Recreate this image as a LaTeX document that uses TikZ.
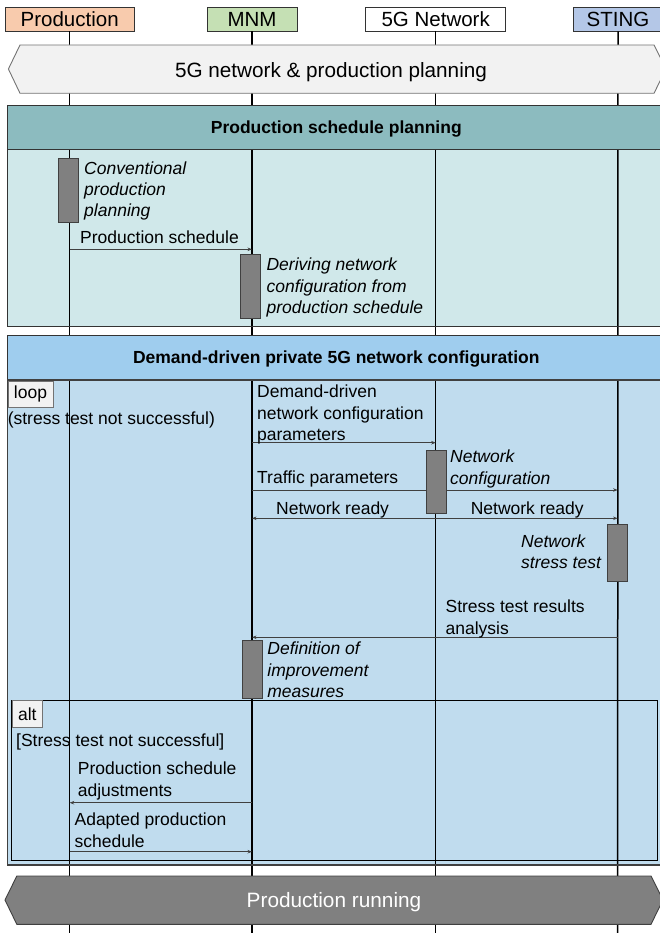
\documentclass[tikz,border=0pt]{standalone}
\usepackage{fontspec}
\setmainfont{Liberation Sans}
\usetikzlibrary{arrows.meta}
\definecolor{prodc}{HTML}{F8CBAD}
\definecolor{mnmc}{HTML}{C5E0B4}
\definecolor{stingc}{HTML}{B4C7E7}
\definecolor{hexc}{HTML}{F2F2F2}
\definecolor{tealhead}{HTML}{8CBBBF}
\definecolor{tealbody}{HTML}{D0E8EA}
\definecolor{bluehead}{HTML}{9FCDEE}
\definecolor{bluebody}{HTML}{C0DCEE}
\definecolor{actc}{HTML}{808080}
\tikzset{
  head/.style={draw=black!80, line width=0.8pt, minimum height=24pt, inner sep=0pt,
    font=\fontsize{20.5}{23}\selectfont},
  txt/.style={anchor=base west, inner sep=0pt, align=left,
    font=\fontsize{17.5}{21.3}\selectfont},
  itxt/.style={txt, font=\fontsize{17.5}{21.3}\selectfont\itshape},
  act/.style={draw=black!75, fill=actc, line width=0.8pt, inner sep=0pt,
    minimum width=20pt, anchor=north},
  life/.style={line width=1.5pt, black},
  msg/.style={draw=black!75, line width=0.9pt, -{Stealth[length=4.5pt,width=3.5pt]}},
  sect/.style={draw=black!80, line width=1pt},
  sechead/.style={sect, inner sep=0pt, minimum width=657.4pt, minimum height=44.3pt,
    text height=12.6pt, text depth=0pt,
    font=\fontsize{17.5}{21}\selectfont\bfseries},
  lbl/.style={draw=black!55, fill=hexc, line width=0.8pt, inner sep=0pt, anchor=north west,
    font=\fontsize{17.5}{21}\selectfont},
  hexa/.style={line width=0.9pt}
}
\begin{document}
\begin{tikzpicture}[x=1pt,y=-1pt]
\useasboundingbox (0,0) rectangle (659,933);

% lifeline heads
\node[head, fill=prodc, minimum width=129pt] (prod) at (69.7,19) {Production};
\node[head, fill=mnmc, minimum width=90pt] (mnm) at (252,19) {MNM};
\node[head, fill=white, minimum width=140pt] (net) at (435.7,19) {5G Network};
\node[head, fill=stingc, minimum width=90pt] (sting) at (618,19) {STING};

% section bodies
\fill[tealbody] (7.6,149.3) rectangle (666,326);
\fill[bluebody] (7.6,380) rectangle (666,865);

% lifelines
\coordinate (prodend) at (69.7,933);
\coordinate (mnmend) at (252,933);
\coordinate (netend) at (435.7,933);
\coordinate (stingend) at (617.6,933);
\draw[life] (prod.south) -- (prodend);
\draw[life] (mnm.south) -- (mnmend);
\draw[life] (net.south) -- (netend);
\draw[life] (sting.south) -- (stingend);

% top phase
\draw[hexa, draw=black!55, fill=hexc] (8.4,69) -- (20,45) -- (654,45) -- (666,69) -- (654,93.3) -- (20,93.3) -- cycle;
\node[font=\fontsize{20.7}{24}\selectfont] (plan) at (331,72.5) {5G network \& production planning};

% section 1
\node[sechead, fill=tealhead] (s1head) at (336.3,127.2) {Production schedule planning};
\draw[sect] (7.6,149.3) rectangle (666,326);

% section 2
\node[sechead, fill=bluehead] (s2head) at (336.3,357.2) {Demand-driven private 5G network configuration};
\draw[sect, draw=black!75, line width=1.2pt] (7.6,380) rectangle (666,865);
\node[lbl, minimum width=45pt, minimum height=26pt] (loop) at (7.6,380.7) {loop};
\draw[black, line width=1pt] (11.8,700) rectangle (657.6,860);
\node[lbl, minimum width=30.2pt, minimum height=26.7pt] (alt) at (11.8,700) {alt};

% bottom phase
\draw[hexa, draw=black!75, fill=actc] (5,900) -- (16.8,876) -- (651,876) -- (663,900) -- (651,924.3) -- (16.8,924.3) -- cycle;
\node[font=\fontsize{20.8}{24}\selectfont, text=white] (run) at (334,902) {Production running};

% messages
\coordinate (m1s) at (69.7,249.3); \coordinate (m1e) at (252,249.3);
\coordinate (m2s) at (252,442.7);  \coordinate (m2e) at (435.7,442.7);
\coordinate (m3s) at (252,490);    \coordinate (m3e) at (617.6,490);
\coordinate (m4s) at (435.7,518.3); \coordinate (m4e) at (252,518.3);
\coordinate (m5e) at (617.6,518.3);
\coordinate (m6s) at (617.6,637.3); \coordinate (m6e) at (252,637.3);
\coordinate (m7s) at (252,802.7);  \coordinate (m7e) at (69.7,802.7);
\coordinate (m8s) at (69.7,851.7); \coordinate (m8e) at (252,851.7);
\draw[msg] (m1s) -- (m1e);
\draw[msg] (m2s) -- (m2e);
\draw[msg] (m3s) -- (m3e);
\draw[msg] (m4s) -- (m4e);
\draw[msg] (m4s) -- (m5e);
\draw[msg] (m6s) -- (m6e);
\draw[msg] (m7s) -- (m7e);
\draw[msg] (m8s) -- (m8e);

% activations
\node[act, minimum height=63.4pt] (a1) at (68,158.3) {};
\node[act, minimum height=64pt] (a2) at (250,254.3) {};
\node[act, minimum height=63.3pt] (a3) at (435.9,450) {};
\node[act, minimum height=56.4pt] (a4) at (617.8,524.3) {};
\node[act, minimum height=58pt] (a5) at (251.9,640) {};

% texts (base anchor = baseline of last line)
\node[itxt] (t1) at (84,217) {Conventional\\production\\planning};
\node[txt] (t2) at (80,243.5) {Production schedule};
\node[itxt] (t3) at (266.4,313.5) {Deriving network\\configuration from\\production schedule};
\node[txt] (t14) at (7.6,424) {(stress test not successful)};
\node[txt] (t4) at (257,440.3) {Demand-driven\\network configuration\\parameters};
\node[itxt] (t5) at (450,484) {Network\\configuration};
\node[txt] (t6) at (257,483) {Traffic parameters};
\node[txt] (t7) at (276,514.5) {Network ready};
\node[txt] (t8) at (470.6,514.5) {Network ready};
\node[itxt] (t9) at (521,568.5) {Network\\stress test};
\node[txt] (t10) at (445.4,634) {Stress test results\\analysis};
\node[itxt] (t11) at (267.2,697.3) {Definition of\\improvement\\measures};
\node[txt] (t15) at (16,746) {[Stress test not successful]};
\node[txt] (t12) at (77.7,796) {Production schedule\\adjustments};
\node[txt] (t13) at (74.4,847) {Adapted production\\schedule};
\end{tikzpicture}
\end{document}
